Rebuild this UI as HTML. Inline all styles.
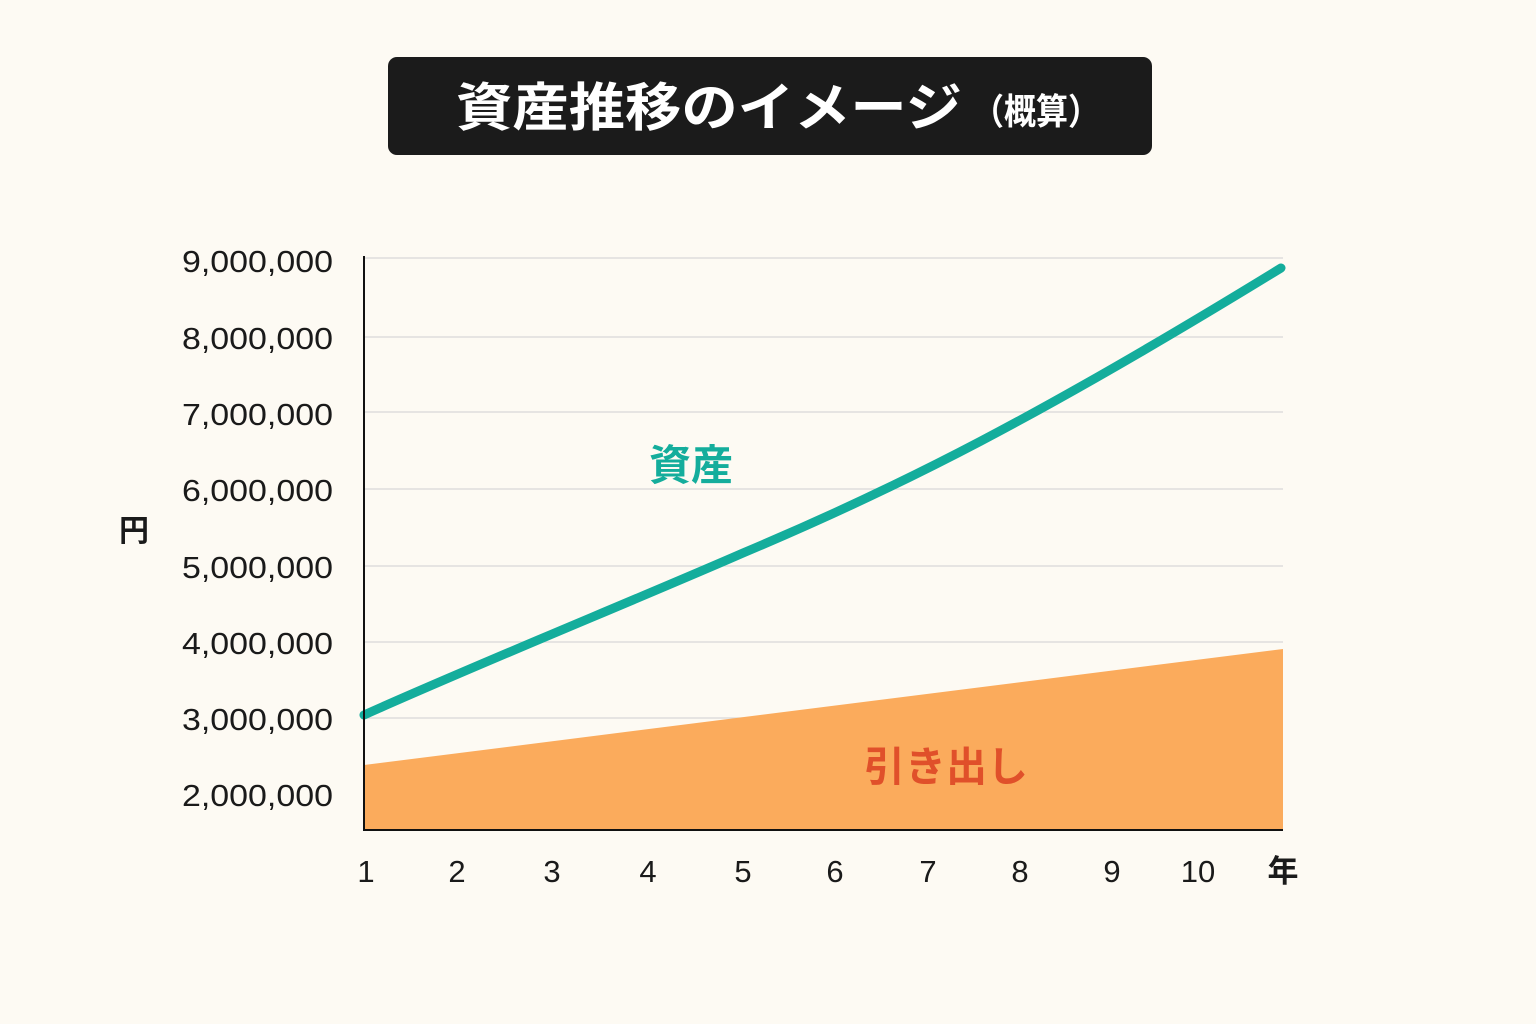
<!DOCTYPE html>
<html><head><meta charset="utf-8"><style>
html,body{margin:0;padding:0;background:#fdfaf3;}
svg{display:block}
</style></head><body>
<svg width="1536" height="1024" viewBox="0 0 1536 1024" xmlns="http://www.w3.org/2000/svg" font-family="'Liberation Sans','Noto Sans CJK JP',sans-serif">
<rect width="1536" height="1024" fill="#fdfaf3"/>
<rect x="388" y="57" width="764" height="98" rx="9" fill="#1b1b1b"/>
<text x="456" y="126" font-size="52" font-weight="bold" fill="#fff" textLength="506" lengthAdjust="spacingAndGlyphs">資産推移のイメージ</text>
<text x="972" y="124" font-size="36" font-weight="bold" fill="#fff" font-family="'Noto Sans CJK JP',sans-serif" textLength="128" lengthAdjust="spacingAndGlyphs">（概算）</text>
<g stroke="#d8d8d8" stroke-width="1.2">
<line x1="364" y1="258" x2="1283" y2="258"/>
<line x1="364" y1="337" x2="1283" y2="337"/>
<line x1="364" y1="412" x2="1283" y2="412"/>
<line x1="364" y1="489" x2="1283" y2="489"/>
<line x1="364" y1="566" x2="1283" y2="566"/>
<line x1="364" y1="642" x2="1283" y2="642"/>
<line x1="364" y1="718" x2="1283" y2="718"/>
</g>
<polygon points="364,765 1283,649 1283,830 364,830" fill="#fbab5c"/>
<path d="M364,715 C480,663 640,598 743,553 C900,487 1040,416 1281,268" fill="none" stroke="#14ad9c" stroke-width="9" stroke-linecap="round" stroke-linejoin="round"/>
<line x1="364" y1="256" x2="364" y2="831" stroke="#111" stroke-width="2"/>
<line x1="363" y1="830" x2="1283" y2="830" stroke="#111" stroke-width="2"/>
<g font-size="31" fill="#1a1a1a">
<text x="182" y="272" textLength="151" lengthAdjust="spacingAndGlyphs">9,000,000</text>
<text x="182" y="349" textLength="151" lengthAdjust="spacingAndGlyphs">8,000,000</text>
<text x="182" y="425" textLength="151" lengthAdjust="spacingAndGlyphs">7,000,000</text>
<text x="182" y="501" textLength="151" lengthAdjust="spacingAndGlyphs">6,000,000</text>
<text x="182" y="578" textLength="151" lengthAdjust="spacingAndGlyphs">5,000,000</text>
<text x="182" y="654" textLength="151" lengthAdjust="spacingAndGlyphs">4,000,000</text>
<text x="182" y="730" textLength="151" lengthAdjust="spacingAndGlyphs">3,000,000</text>
<text x="182" y="806" textLength="151" lengthAdjust="spacingAndGlyphs">2,000,000</text>
</g>
<text x="134" y="541" font-size="30" font-weight="bold" text-anchor="middle" fill="#1a1a1a">円</text>
<g font-size="31" fill="#1a1a1a" text-anchor="middle">
<text x="366" y="882">1</text><text x="457" y="882">2</text><text x="552" y="882">3</text>
<text x="648" y="882">4</text><text x="743" y="882">5</text><text x="835" y="882">6</text>
<text x="928" y="882">7</text><text x="1020" y="882">8</text><text x="1112" y="882">9</text>
<text x="1198" y="882">10</text><text x="1283" y="882" font-weight="bold">年</text>
</g>
<text x="691" y="480" font-size="42" font-weight="bold" fill="#14ad9c" text-anchor="middle">資産</text>
<text x="946" y="781" font-size="41" font-weight="bold" fill="#e0502a" text-anchor="middle">引き出し</text>
</svg>
</body></html>
